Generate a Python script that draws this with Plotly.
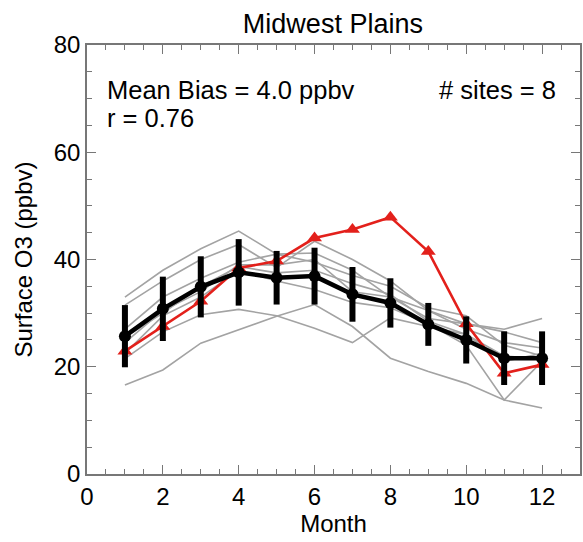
import plotly.graph_objects as go

months = [1, 2, 3, 4, 5, 6, 7, 8, 9, 10, 11, 12]

obs_mean = [25.7, 30.8, 34.9, 37.6, 36.6, 36.9, 33.5, 31.9, 27.9, 25.0, 21.6, 21.6]
obs_std = [5.8, 6.0, 5.7, 6.2, 5.0, 5.3, 5.1, 4.6, 4.0, 4.4, 5.0, 5.0]

model = [22.9, 27.5, 32.2, 38.4, 39.7, 44.0, 45.6, 47.9, 41.5, 28.0, 18.8, 20.4]

site1 = [33.0, 38.0, 42.0, 45.3, 41.0, 39.5, 37.0, 35.0, 31.0, 29.5, 24.0, 22.0]
site2 = [31.5, 36.0, 40.0, 42.8, 38.5, 43.4, 40.0, 36.0, 30.5, 28.0, 27.0, 29.0]
site3 = [27.0, 33.0, 36.5, 39.5, 41.0, 41.2, 38.0, 33.0, 29.0, 28.0, 26.5, 24.5]
site4 = [25.5, 30.0, 35.0, 38.7, 37.5, 38.0, 35.5, 33.5, 28.5, 26.0, 22.0, 21.5]
site5 = [21.5, 26.5, 29.7, 30.7, 29.5, 27.2, 24.5, 29.1, 27.5, 26.0, 21.0, 22.5]
site6 = [16.6, 19.4, 24.4, 26.9, 29.4, 31.6, 27.5, 21.6, 19.1, 16.9, 13.8, 12.3]
site7 = [22.5, 29.5, 33.0, 38.0, 36.0, 34.4, 32.0, 31.0, 28.0, 24.0, 13.8, 21.0]
site8 = [24.5, 30.5, 34.0, 39.0, 39.0, 40.0, 34.0, 33.0, 30.5, 27.0, 24.5, 23.5]
sites = [site1, site2, site3, site4, site5, site6, site7, site8]

title_text = "Midwest Plains"
bias_text = "Mean Bias = 4.0 ppbv"
r_text = "r = 0.76"
nsites_text = "# sites = 8"
x_ticks = [0, 2, 4, 6, 8, 10, 12]
y_ticks = [0, 20, 40, 60, 80]

FONT = "Liberation Sans, Arial, sans-serif"
GRAY = "#a3a3a3"
RED = "#e3201b"
AX = "#777777"

fig = go.Figure()

for s in sites:
    fig.add_trace(go.Scatter(x=months, y=s, mode="lines",
                             line=dict(color=GRAY, width=1.6),
                             showlegend=False, hoverinfo="skip"))

fig.add_trace(go.Scatter(x=months, y=model, mode="lines+markers",
                         line=dict(color=RED, width=2.6),
                         marker=dict(symbol="triangle-up", size=13, color=RED),
                         showlegend=False))

fig.add_trace(go.Scatter(x=months, y=obs_mean, mode="lines+markers",
                         line=dict(color="black", width=4.5),
                         marker=dict(symbol="circle", size=12, color="black"),
                         error_y=dict(type="data", array=obs_std, color="black",
                                      thickness=6, width=0),
                         showlegend=False))

axis_common = dict(
    showgrid=False, zeroline=False, showline=True, linecolor=AX,
    linewidth=1.5, mirror="ticks", ticks="inside", tickcolor=AX,
    tickwidth=1.2, ticklen=9, automargin=False,
    tickfont=dict(family=FONT, size=24, color="black"),
)

fig.update_xaxes(range=[0, 13], tickvals=x_ticks,
                 minor=dict(ticks="inside", dtick=0.5, ticklen=5,
                            tickcolor=AX, tickwidth=1),
                 title=dict(text="Month", font=dict(family=FONT, size=24, color="black"),
                            standoff=1),
                 **axis_common)
fig.update_yaxes(range=[0, 80], tickvals=y_ticks,
                 minor=dict(ticks="inside", dtick=5, ticklen=5,
                            tickcolor=AX, tickwidth=1),
                 title=dict(text="Surface O3 (ppbv)",
                            font=dict(family=FONT, size=24, color="black"),
                            standoff=14),
                 **axis_common)

fig.add_annotation(xref="paper", yref="paper", x=0.036, y=0.896,
                   xanchor="left", yanchor="middle", showarrow=False,
                   text=bias_text, font=dict(family=FONT, size=25.5, color="black"))
fig.add_annotation(xref="paper", yref="paper", x=0.036, y=0.829,
                   xanchor="left", yanchor="middle", showarrow=False,
                   text=r_text, font=dict(family=FONT, size=25.5, color="black"))
fig.add_annotation(xref="paper", yref="paper", x=0.955, y=0.896,
                   xanchor="right", yanchor="middle", showarrow=False,
                   text=nsites_text, font=dict(family=FONT, size=25.5, color="black"))

fig.update_layout(
    width=583, height=542,
    margin=dict(l=87, r=3, t=45, b=68),
    paper_bgcolor="white", plot_bgcolor="white",
    title=dict(text=title_text, x=0.571, xanchor="center", y=0.956,
               yanchor="middle", font=dict(family=FONT, size=27, color="black")),
)

fig.write_html("out.html", config={"displayModeBar": False},
               post_script="document.body.style.margin='0';")
